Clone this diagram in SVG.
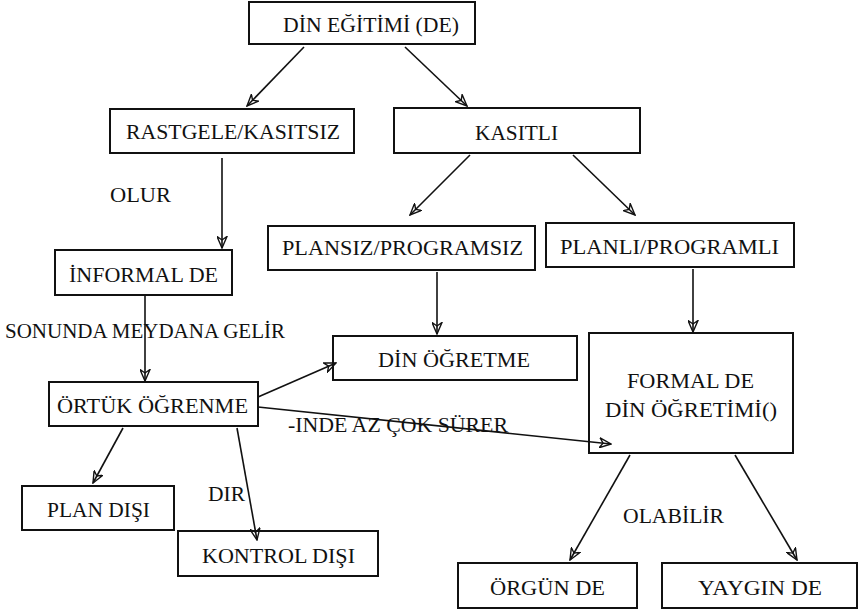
<svg xmlns="http://www.w3.org/2000/svg" width="861" height="612" viewBox="0 0 861 612">
<style>
.box{fill:#fff;stroke:#111;stroke-width:2}
.t{font-family:"Liberation Serif","DejaVu Serif",serif;font-size:20px;fill:#111}
.c{stroke:#111;stroke-width:1.6;fill:none;marker-end:url(#ah)}
</style>
<defs>
<marker id="ah" viewBox="0 0 13 11" refX="12" refY="5.5" markerWidth="13" markerHeight="11" markerUnits="userSpaceOnUse" orient="auto">
<path d="M0.5,0.5 L12,5.5 L0.5,10.5 L4,5.5 Z" fill="none" stroke="#111" stroke-width="1.4" stroke-linejoin="miter"/>
</marker>
</defs>
<rect width="861" height="612" fill="#fff"/>
<g id="n-din-egitimi">
<rect class="box" x="249" y="2" width="226" height="42"/>
<text class="t" x="283" y="32" textLength="176" lengthAdjust="spacingAndGlyphs">DİN EĞİTİMİ (DE)</text>
</g>
<g id="n-rastgele">
<rect class="box" x="110" y="109" width="244" height="44"/>
<text class="t" x="126" y="139" textLength="214" lengthAdjust="spacingAndGlyphs">RASTGELE/KASITSIZ</text>
</g>
<g id="n-kasitli">
<rect class="box" x="394" y="108" width="246" height="45"/>
<text class="t" x="475" y="140" textLength="83" lengthAdjust="spacingAndGlyphs">KASITLI</text>
</g>
<g id="n-plansiz">
<rect class="box" x="268" y="226" width="267" height="44"/>
<text class="t" x="282" y="255" textLength="241" lengthAdjust="spacingAndGlyphs">PLANSIZ/PROGRAMSIZ</text>
</g>
<g id="n-planli">
<rect class="box" x="546" y="223" width="248" height="44"/>
<text class="t" x="560" y="254" textLength="219" lengthAdjust="spacingAndGlyphs">PLANLI/PROGRAMLI</text>
</g>
<g id="n-informal">
<rect class="box" x="55" y="250" width="177" height="45"/>
<text class="t" x="69" y="282" textLength="149" lengthAdjust="spacingAndGlyphs">İNFORMAL DE</text>
</g>
<g id="n-din-ogretme">
<rect class="box" x="333" y="336" width="244" height="44"/>
<text class="t" x="378" y="367" textLength="152" lengthAdjust="spacingAndGlyphs">DİN ÖĞRETME</text>
</g>
<g id="n-formal">
<rect class="box" x="589" y="333" width="204" height="120"/>
<text class="t" x="627" y="388" textLength="127" lengthAdjust="spacingAndGlyphs">FORMAL DE</text>
<text class="t" x="605" y="417" textLength="172" lengthAdjust="spacingAndGlyphs">DİN ÖĞRETİMİ()</text>
</g>
<g id="n-ortuk">
<rect class="box" x="49" y="382" width="209" height="44"/>
<text class="t" x="57" y="413" textLength="191" lengthAdjust="spacingAndGlyphs">ÖRTÜK ÖĞRENME</text>
</g>
<g id="n-plan-disi">
<rect class="box" x="22" y="486" width="152" height="44"/>
<text class="t" x="47" y="517" textLength="103" lengthAdjust="spacingAndGlyphs">PLAN DIŞI</text>
</g>
<g id="n-kontrol-disi">
<rect class="box" x="178" y="531" width="200" height="45"/>
<text class="t" x="202" y="563" textLength="153" lengthAdjust="spacingAndGlyphs">KONTROL DIŞI</text>
</g>
<g id="n-orgun">
<rect class="box" x="458" y="563" width="179" height="45"/>
<text class="t" x="490" y="595" textLength="115" lengthAdjust="spacingAndGlyphs">ÖRGÜN DE</text>
</g>
<g id="n-yaygin">
<rect class="box" x="662" y="563" width="195" height="45"/>
<text class="t" x="698" y="595" textLength="124" lengthAdjust="spacingAndGlyphs">YAYGIN DE</text>
</g>
<g id="labels">
<text class="t" x="110" y="202" textLength="61" lengthAdjust="spacingAndGlyphs">OLUR</text>
<text class="t" x="5" y="338" textLength="280" lengthAdjust="spacingAndGlyphs">SONUNDA MEYDANA GELİR</text>
<text class="t" x="288" y="432" textLength="220" lengthAdjust="spacingAndGlyphs">-INDE AZ ÇOK SÜRER</text>
<text class="t" x="208" y="501" textLength="37" lengthAdjust="spacingAndGlyphs">DIR</text>
<text class="t" x="623" y="523" textLength="101" lengthAdjust="spacingAndGlyphs">OLABİLİR</text>
</g>
<g id="connectors">
<line class="c" x1="304" y1="47" x2="247" y2="106"/>
<line class="c" x1="405" y1="47" x2="467" y2="106"/>
<line class="c" x1="222" y1="158" x2="222" y2="248"/>
<line class="c" x1="470" y1="155" x2="410" y2="215"/>
<line class="c" x1="573" y1="155" x2="635" y2="215"/>
<line class="c" x1="437" y1="272" x2="437" y2="334"/>
<line class="c" x1="693" y1="269" x2="693" y2="332"/>
<line class="c" x1="145" y1="295" x2="145" y2="381"/>
<line class="c" x1="258" y1="397" x2="336" y2="363"/>
<line class="c" x1="258" y1="407" x2="611" y2="444"/>
<line class="c" x1="123" y1="428" x2="93" y2="483"/>
<line class="c" x1="237" y1="428" x2="257" y2="540"/>
<line class="c" x1="630" y1="455" x2="570" y2="560"/>
<line class="c" x1="735" y1="455" x2="797" y2="560"/>
</g>
</svg>
